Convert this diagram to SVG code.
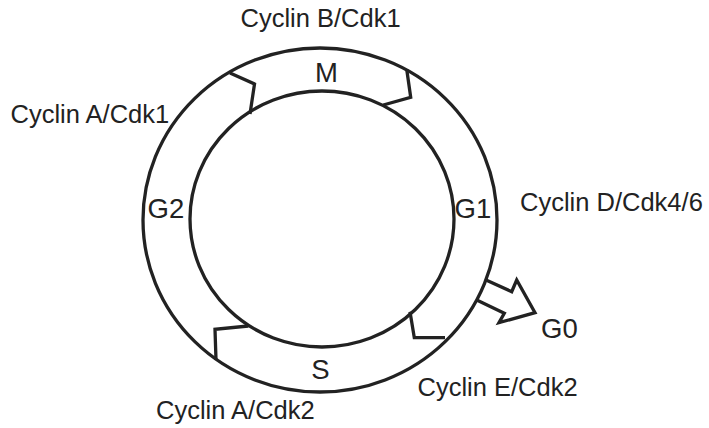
<svg xmlns="http://www.w3.org/2000/svg" width="709" height="428" viewBox="0 0 709 428">
<style>
.ln{fill:none;stroke:#222;stroke-width:3.3;stroke-linejoin:miter;}
.t{font-family:"Liberation Sans",Arial,sans-serif;font-size:25.5px;fill:#222;}
.p{font-family:"Liberation Sans",Arial,sans-serif;font-size:27.5px;fill:#222;}
</style>
<rect width="709" height="428" fill="#fff"/>
<g id="cycle">
<ellipse class="ln" cx="320" cy="220" rx="177" ry="172"/>
<ellipse class="ln" cx="322" cy="219" rx="132" ry="128"/>
</g>
<g id="connectors">
<polyline class="ln" points="230,73 254.5,84 250,114"/>
<polyline class="ln" points="406.7,69.3 410.7,97.3 383.3,105"/>
<polyline class="ln" points="216,360 215,329.3 248.3,326"/>
<polyline class="ln" points="410,311.7 414.3,337.7 445,337.7"/>
<polyline class="ln" points="486,280 511.7,291.7 516.7,280 535,312.7 499,322.7 504.3,313.3 476.7,300"/>
</g>
<g id="phase-M"><text class="p" x="326.5" y="81.5" text-anchor="middle">M</text></g>
<g id="phase-S"><text class="p" x="320.5" y="378.5" text-anchor="middle">S</text></g>
<g id="phase-G1"><text class="p" x="454.5" y="217.5">G1</text></g>
<g id="phase-G2"><text class="p" x="147.5" y="217.5">G2</text></g>
<g id="phase-G0"><text class="p" x="541" y="337.5">G0</text></g>
<g id="label-B"><text class="t" x="240.5" y="26.5">Cyclin B/Cdk1</text></g>
<g id="label-A1"><text class="t" x="10.5" y="122.5">Cyclin A/Cdk1</text></g>
<g id="label-D"><text class="t" x="520" y="211">Cyclin D/Cdk4/6</text></g>
<g id="label-E"><text class="t" x="417.5" y="396">Cyclin E/Cdk2</text></g>
<g id="label-A2"><text class="t" x="156" y="418.5">Cyclin A/Cdk2</text></g>
</svg>
